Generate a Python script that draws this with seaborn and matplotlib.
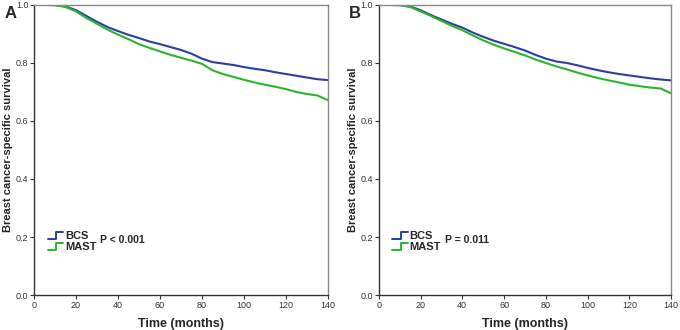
import numpy as np
import pandas as pd
import matplotlib
matplotlib.use("Agg")
import matplotlib.pyplot as plt
import seaborn as sns
from matplotlib.legend_handler import HandlerLine2D
from matplotlib.lines import Line2D

months = [0, 5, 10, 15, 20, 25, 30, 35, 40, 45, 50, 55, 60, 65, 70,
          75, 80, 85, 90, 95, 100, 105, 110, 115, 120, 125, 130, 135, 140]

bcs_a = [1.0, 1.0, 1.0, 0.995, 0.982, 0.962, 0.942, 0.924, 0.910, 0.897, 0.886, 0.874, 0.865, 0.855, 0.845,
         0.832, 0.815, 0.803, 0.798, 0.793, 0.786, 0.780, 0.775, 0.768, 0.762, 0.756, 0.750, 0.744, 0.741]
mast_a = [1.0, 1.0, 0.999, 0.993, 0.978, 0.955, 0.935, 0.915, 0.898, 0.882, 0.865, 0.852, 0.840, 0.828, 0.818,
          0.808, 0.797, 0.775, 0.762, 0.752, 0.742, 0.733, 0.725, 0.718, 0.710, 0.700, 0.693, 0.688, 0.672]

bcs_b = [1.0, 1.0, 1.0, 0.995, 0.982, 0.965, 0.950, 0.935, 0.922, 0.905, 0.890, 0.877, 0.866, 0.855, 0.843,
         0.828, 0.815, 0.805, 0.800, 0.792, 0.783, 0.775, 0.768, 0.762, 0.757, 0.752, 0.747, 0.743, 0.740]
mast_b = [1.0, 1.0, 0.999, 0.993, 0.978, 0.962, 0.945, 0.928, 0.913, 0.895, 0.878, 0.863, 0.850, 0.838, 0.826,
          0.812, 0.800, 0.788, 0.778, 0.767, 0.757, 0.748, 0.740, 0.733, 0.725, 0.720, 0.715, 0.712, 0.695]

groups = ["BCS", "MAST"]
panels = ["A", "B"]
p_texts = ["P < 0.001", "P = 0.011"]
farben = {"BCS": "#2b3fa3", "MAST": "#2bb52b"}


class StepHandler(HandlerLine2D):
    # Legendensymbol als kleine Treppe zeichnen
    def create_artists(self, legend, orig_handle, xdescent, ydescent, width, height, fontsize, trans):
        x = np.array([0, 0.55, 0.55, 1.0]) * width - xdescent
        y = np.array([0.1, 0.1, 0.9, 0.9]) * height - ydescent
        ln = Line2D(x, y, color=orig_handle.get_color(), lw=orig_handle.get_linewidth())
        ln.set_transform(trans)
        return [ln]


sns.set_style("white")
plt.rcParams["font.family"] = ["Liberation Sans", "DejaVu Sans"]

fig = plt.figure(figsize=(6.8, 3.3), dpi=100)
ax_a = fig.add_axes([0.050, 0.106, 0.432, 0.879])
ax_b = fig.add_axes([0.557, 0.106, 0.430, 0.879])

daten = [(bcs_a, mast_a), (bcs_b, mast_b)]

for ax, (bcs, mast), buchst, ptxt in zip([ax_a, ax_b], daten, panels, p_texts):
    df = pd.DataFrame({
        "Monat": months * 2,
        "Survival": bcs + mast,
        "Gruppe": ["BCS"] * len(months) + ["MAST"] * len(months),
    })
    sns.lineplot(data=df, x="Monat", y="Survival", hue="Gruppe", palette=farben,
                 linewidth=1.5, ax=ax, legend=False)

    ax.set_xlim(0, 140)
    ax.set_ylim(0, 1.0)
    ax.set_xticks(range(0, 141, 20))
    ax.set_yticks([0.0, 0.2, 0.4, 0.6, 0.8, 1.0])
    ax.set_yticklabels(["0.0", "0.2", "0.4", "0.6", "0.8", "1.0"])
    ax.tick_params(axis="both", labelsize=6.5, length=3, width=0.8, color="#333333",
                   labelcolor="#333333", pad=1, direction="out", bottom=True, left=True)
    ax.set_xlabel("Time (months)", fontsize=9, fontweight="bold", labelpad=6)
    ax.set_ylabel("Breast cancer-specific survival", fontsize=8, fontweight="bold", labelpad=2)

    for side in ["left", "bottom"]:
        ax.spines[side].set_color("#333333")
        ax.spines[side].set_linewidth(1.0)
    for side in ["top", "right"]:
        ax.spines[side].set_color("#888888")
        ax.spines[side].set_linewidth(1.0)

    handles = [Line2D([], [], color=farben[g], lw=1.4) for g in groups]
    ax.legend(handles, groups, loc="lower left", bbox_to_anchor=(0.02, 0.12), frameon=False,
              handler_map={Line2D: StepHandler()}, handlelength=1.4, handletextpad=0.15,
              labelspacing=0.1, borderpad=0.2, prop={"weight": "bold", "size": 8})
    ax.text(0.225, 0.19, ptxt, transform=ax.transAxes, fontsize=7.5, fontweight="bold",
            va="center", ha="left")

    fig.text(ax.get_position().x0 - 0.035, 0.96, buchst, fontsize=12, fontweight="bold",
             va="center", ha="center")

fig.savefig("out.png", dpi=100)
